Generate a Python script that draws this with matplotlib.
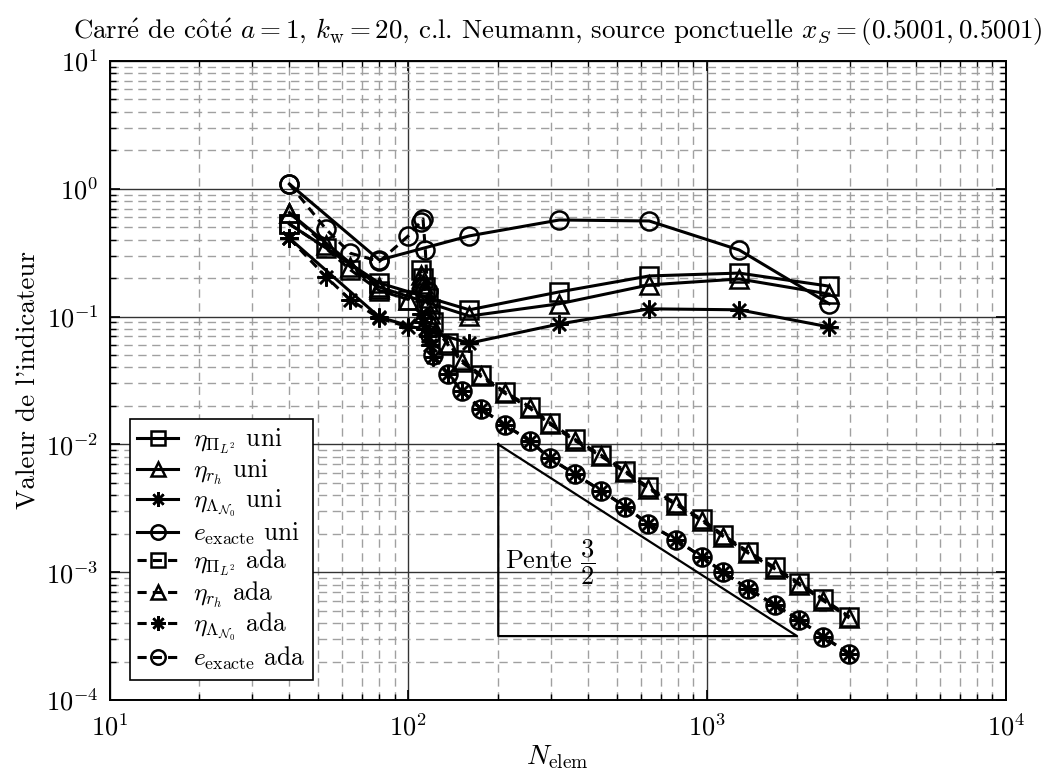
import matplotlib
matplotlib.use('Agg')
import matplotlib.pyplot as plt

plt.rcParams['font.family'] = ['cmr10', 'DejaVu Serif']
plt.rcParams['mathtext.fontset'] = 'cm'
plt.rcParams['axes.formatter.use_mathtext'] = True
plt.rcParams['axes.unicode_minus'] = False

# raffinement uniforme
n_uni = [40, 80, 160, 320, 640, 1280, 2560]
pi_uni = [0.53, 0.183, 0.113, 0.156, 0.208, 0.219, 0.173]
rh_uni = [0.65, 0.17, 0.101, 0.126, 0.177, 0.197, 0.150]
lam_uni = [0.41, 0.099, 0.062, 0.0875, 0.115, 0.113, 0.083]
ex_uni = [1.09, 0.277, 0.428, 0.57, 0.56, 0.332, 0.126]

# raffinement adaptatif
n_ada = [40, 53, 64, 80, 100, 110, 112, 114, 116, 118, 121, 136, 151, 175, 210,
         255, 297, 361, 442, 531, 636, 787, 959, 1133, 1373, 1687, 2035, 2448, 2992]
pi_ada = [0.53, 0.342, 0.232, 0.16, 0.136, 0.23, 0.20, 0.17, 0.14, 0.115, 0.09,
          0.0618, 0.0457, 0.0349, 0.0258, 0.0197, 0.01479, 0.01096, 0.00826,
          0.00622, 0.00461, 0.00346, 0.00259, 0.00195, 0.001445, 0.00109,
          0.000818, 0.000614, 0.000449]
rh_ada = [0.65, 0.36, 0.245, 0.165, 0.135, 0.21, 0.18, 0.155, 0.13, 0.105, 0.085,
          0.060, 0.044, 0.0340, 0.0252, 0.0192, 0.01445, 0.0107, 0.00806,
          0.00607, 0.0045, 0.00338, 0.00253, 0.0019, 0.00141, 0.00106,
          0.000798, 0.000599, 0.000438]
lam_ada = [0.41, 0.205, 0.135, 0.097, 0.083, 0.105, 0.09, 0.08, 0.07, 0.06, 0.048,
           0.0356, 0.0261, 0.0190, 0.0142, 0.0107, 0.00778, 0.00586, 0.00434,
           0.00326, 0.00238, 0.00179, 0.00132, 0.000998, 0.00074, 0.000553,
           0.000422, 0.000313, 0.000229]
ex_ada = [1.09, 0.484, 0.313, 0.27, 0.428, 0.55, 0.58, 0.33, 0.16, 0.072, 0.05,
          0.0356, 0.0261, 0.0190, 0.0142, 0.0107, 0.00778, 0.00586, 0.00434,
          0.00326, 0.00238, 0.00179, 0.00132, 0.000998, 0.00074, 0.000553,
          0.000422, 0.000313, 0.000229]

labels_uni = [r'$\eta_{\Pi_{L^2}}$ uni', r'$\eta_{r_h}$ uni',
              r'$\eta_{\Lambda_{\mathcal{N}_0}}$ uni', r'$e_{\mathrm{exacte}}$ uni']
labels_ada = [r'$\eta_{\Pi_{L^2}}$ ada', r'$\eta_{r_h}$ ada',
              r'$\eta_{\Lambda_{\mathcal{N}_0}}$ ada', r'$e_{\mathrm{exacte}}$ ada']
star = (8, 2, 0)  # asterisque
markers = ['s', '^', star, 'o']

# triangle de pente 3/2
tri_n = [200, 200, 2000, 200]
tri_v = [1e-2, 1e-2 * 10 ** -1.5, 1e-2 * 10 ** -1.5, 1e-2]

fig = plt.figure(figsize=(10.47, 7.71), dpi=100)
ax = fig.add_axes([0.1046, 0.0921, 0.8562, 0.8288])

mk = dict(color='black', mfc='none', mec='black', mew=1.8, lw=2.2, ms=13)
for ys, lab, m in zip([pi_uni, rh_uni, lam_uni, ex_uni], labels_uni, markers):
    ax.plot(n_uni, ys, '-', marker=m, label=lab, **mk)
for ys, lab, m in zip([pi_ada, rh_ada, lam_ada, ex_ada], labels_ada, markers):
    ax.plot(n_ada, ys, '--', marker=m, label=lab, dashes=(3, 2), **mk)

ax.plot(tri_n, tri_v, '-', color='black', lw=1.6)
ax.text(210, 1.2e-3, r'Pente $\dfrac{3}{2}$', fontsize=19, ha='left', va='center')

ax.set_xscale('log')
ax.set_yscale('log')
ax.set_xlim(10, 1e4)
ax.set_ylim(1e-4, 10)

ax.grid(True, which='major', color='#333333', ls='-', lw=1.0)
ax.grid(True, which='minor', color='#a0a0a0', ls=(0, (6, 4)), lw=1.0)
ax.tick_params(which='both', direction='in', top=True, right=True,
               labelsize=19)
ax.tick_params(which='major', length=7, width=1.2)
ax.tick_params(which='minor', length=4, width=1.0)
ax.tick_params(axis='x', pad=10)
ax.tick_params(axis='y', pad=8)
for s in ax.spines.values():
    s.set_linewidth(1.4)

ax.set_xlabel(r'$N_{\mathrm{elem}}$', fontsize=20, labelpad=2)
ax.set_ylabel("Valeur de l'indicateur", fontsize=19.5)
ax.set_title(r'Carr$\acute{\mathrm{e}}$ de c$\hat{\mathrm{o}}$t$\acute{\mathrm{e}}$ '
             r'$a = 1$, $k_{\mathrm{w}} = 20$, c.l. Neumann, '
             r'source ponctuelle $x_S = (0.5001, 0.5001)$', fontsize=19.4, pad=16)

leg = ax.legend(loc='lower left', fontsize=18.3, fancybox=False, framealpha=1,
                edgecolor='black', handlelength=1.6, labelspacing=0.05,
                handletextpad=0.6, borderpad=0.3, borderaxespad=0.8,
                markerscale=0.8)
leg.get_frame().set_linewidth(1.2)

plt.savefig('out.png', dpi=100)
